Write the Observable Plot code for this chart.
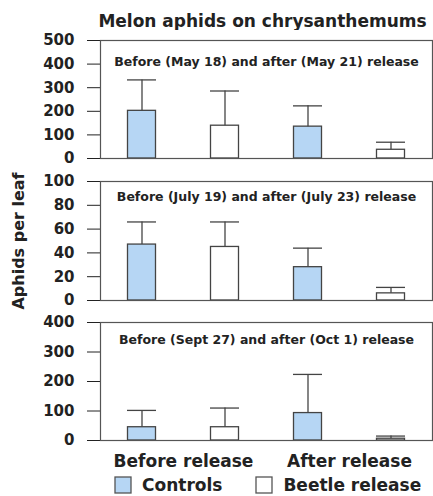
<!DOCTYPE html>
<html>
<head>
<meta charset="utf-8">
<script src="https://cdn.jsdelivr.net/npm/d3@7"></script>
<script src="https://cdn.jsdelivr.net/npm/@observablehq/plot@0.6"></script>
<style>
  html, body { margin: 0; padding: 0; background: white; }
  #chart { position: relative; width: 433px; height: 496px; overflow: hidden; font-family: "DejaVu Sans", sans-serif; font-weight: bold; color: #222; }
  #title { position: absolute; left: 92px; width: 341px; top: 13px; text-align: center; font-size: 17px; line-height: 1; white-space: nowrap; }
  .panel { position: absolute; left: 0; }
  #legend { position: absolute; left: 115px; top: 468px; width: 318px; flex-wrap: nowrap !important; white-space: nowrap; margin: 0 !important; }
  .lg-swatch { margin-right: 34px !important; white-space: nowrap; }
  .lg-swatch > svg { margin-right: 11px !important; }
  .lg-swatch rect { stroke: #555; stroke-width: 1.3px; }
  g[aria-label="y-axis label"] text { font-size: 16px; }
</style>
</head>
<body>
<div id="chart">
  <div id="title"></div>
</div>
<script>
// ---- data ----
const chartTitle = "Melon aphids on chrysanthemums";
const yLabel = "Aphids per leaf";
const periods = ["Before release", "After release"];
const treatments = ["Controls", "Beetle release"];
const colors = ["#b6d6f4", "#ffffff"];

const panelTitles = [
  "Before (May 18) and after (May 21) release",
  "Before (July 19) and after (July 23) release",
  "Before (Sept 27) and after (Oct 1) release"
];
// values in order: Before/Controls, Before/Beetle, After/Controls, After/Beetle
const mayMeans  = [202, 139, 135, 37];
const mayUpper  = [333, 286, 223, 69];
const julyMeans = [47, 45, 28, 6];
const julyUpper = [66, 66, 44, 11];
const septMeans = [45, 45, 93, 6];
const septUpper = [102, 110, 224, 15];

const mayTicks  = [0, 100, 200, 300, 400, 500];
const julyTicks = [0, 20, 40, 60, 80, 100];
const septTicks = [0, 100, 200, 300, 400];

// ---- build ----
const keys = [];
for (const p of periods) for (const t of treatments) keys.push(p + " | " + t);

function rows(means, upper) {
  let i = 0;
  const out = [];
  for (const p of periods) for (const t of treatments) {
    out.push({key: p + " | " + t, period: p, treatment: t, mean: means[i], upper: upper[i]});
    i++;
  }
  return out;
}

const panels = [
  {data: rows(mayMeans, mayUpper), ticks: mayTicks, title: panelTitles[0], top: 30, titleDy: 25, yLabel: false, bottom: false},
  {data: rows(julyMeans, julyUpper), ticks: julyTicks, title: panelTitles[1], top: 171, titleDy: 19, yLabel: true, bottom: false, h: 119},
  {data: rows(septMeans, septUpper), ticks: septTicks, title: panelTitles[2], top: 312, titleDy: 21, yLabel: false, bottom: true}
];

const chart = document.getElementById("chart");
document.getElementById("title").textContent = chartTitle;

const stroke = "#444";
for (const pn of panels) {
  const innerH = pn.h || 118;
  const mt = 10, mb = pn.bottom ? 36 : 4;
  const marks = [
    Plot.barY(pn.data, {x: "key", y: "mean", fill: "treatment", stroke, strokeWidth: 1.3, insetLeft: 27.5, insetRight: 27.5}),
    Plot.ruleX(pn.data, {x: "key", y1: "mean", y2: "upper", stroke, strokeWidth: 1.3}),
    Plot.tickY(pn.data, {x: "key", y: "upper", stroke, strokeWidth: 1.3, insetLeft: 27, insetRight: 27}),
    Plot.frame({stroke: "#555", strokeWidth: 1.2}),
    Plot.text([pn.title], {frameAnchor: "top", lineAnchor: "bottom", dy: pn.titleDy, fontSize: 12.5, fill: "#222"})
  ];
  if (pn.bottom) {
    marks.push(Plot.text(periods, {x: p => p + " | " + treatments[0], frameAnchor: "bottom", lineAnchor: "bottom", dx: 41.5, dy: 26, fontSize: 17, fill: "#222"}));
  }
  const svg = Plot.plot({
    width: 433,
    height: mt + innerH + mb,
    marginLeft: 100,
    marginRight: 1,
    marginTop: mt,
    marginBottom: mb,
    style: {fontFamily: "DejaVu Sans, sans-serif", fontWeight: "bold", fontSize: "15px", color: "#222", background: "white", overflow: "visible"},
    x: {domain: keys, axis: null, padding: 0},
    y: {
      domain: [0, pn.ticks[pn.ticks.length - 1]],
      ticks: pn.ticks,
      tickSize: 13,
      tickPadding: 13,
      tickFormat: d => String(d),
      label: pn.yLabel ? yLabel : null,
      labelAnchor: "center",
      labelArrow: "none",
      labelOffset: 88
    },
    color: {domain: treatments, range: colors},
    marks
  });
  svg.classList.add("panel");
  svg.style.top = pn.top + "px";
  chart.appendChild(svg);
}

const legend = Plot.legend({
  color: {type: "ordinal", domain: treatments, range: colors},
  swatchSize: 16,
  className: "lg",
  style: {fontFamily: "DejaVu Sans, sans-serif", fontWeight: "bold", fontSize: "17px", color: "#222"}
});
legend.id = "legend";
chart.appendChild(legend);
</script>
</body>
</html>
